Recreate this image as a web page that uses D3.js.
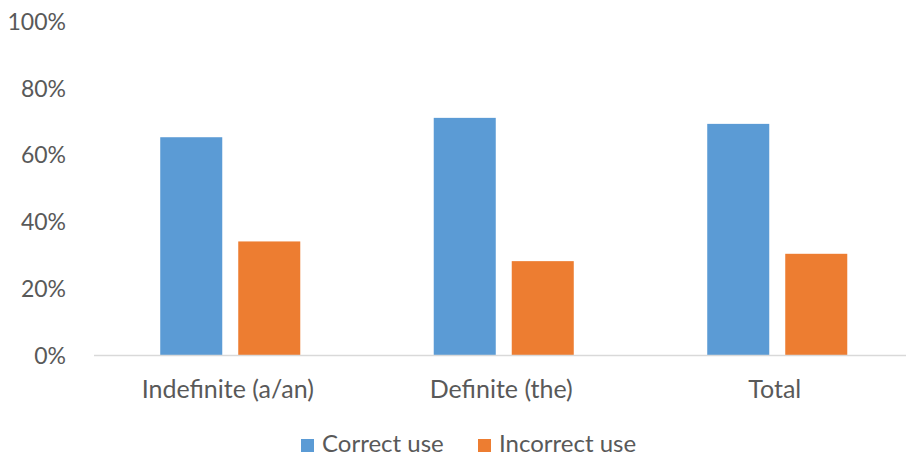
<!DOCTYPE html>
<html>
<head>
<meta charset="utf-8">
<script src="https://cdn.jsdelivr.net/npm/d3@7"></script>
<style>
  html, body { margin: 0; padding: 0; background: #fff; }
  svg { display: block; }
  text { font-family: Lato, "Open Sans", sans-serif; fill: #595959; }
</style>
</head>
<body>
<svg id="chart" width="906" height="458"></svg>
<script>
// Article usage: share of correct vs incorrect use
const categories = ["Indefinite (a/an)", "Definite (the)", "Total"];
const seriesNames = ["Correct use", "Incorrect use"];
const correctUse = [0.652, 0.710, 0.692];
const incorrectUse = [0.340, 0.281, 0.303];
const yTicks = [0, 0.2, 0.4, 0.6, 0.8, 1.0];
const colors = ["#5b9bd5", "#ed7d31"];

const svg = d3.select("#chart");
const plot = { left: 93.5, right: 914, top: 21, bottom: 355 };

const rows = categories.map((c, i) => ({ category: c, values: [correctUse[i], incorrectUse[i]] }));

const x0 = d3.scaleBand()
  .domain(categories)
  .range([plot.left, plot.right])
  .paddingInner(0.488)
  .paddingOuter(0.244);

const x1 = d3.scaleBand()
  .domain(seriesNames)
  .range([0, x0.bandwidth()])
  .paddingInner(0.205)
  .paddingOuter(0);

const y = d3.scaleLinear().domain([0, 1]).range([plot.bottom, plot.top]);

// Y axis labels (no line, no ticks)
const yAxis = d3.axisLeft(y)
  .tickValues(yTicks)
  .tickFormat(d3.format(".0%"))
  .tickSize(0)
  .tickPadding(0);
const gy = svg.append("g").attr("transform", "translate(66,0)").call(yAxis);
gy.select(".domain").remove();
gy.selectAll("text")
  .attr("font-size", 23)
  .attr("font-family", "Lato, sans-serif")
  .attr("fill", "#595959")
  .attr("dy", "0.36em");

// Bars
const groups = svg.append("g").selectAll("g")
  .data(rows)
  .join("g")
  .attr("transform", d => `translate(${x0(d.category)},0)`);

groups.selectAll("rect")
  .data(d => d.values.map((v, k) => ({ key: seriesNames[k], value: v, k })))
  .join("rect")
  .attr("x", d => x1(d.key))
  .attr("y", d => y(d.value))
  .attr("width", x1.bandwidth())
  .attr("height", d => y(0) - y(d.value))
  .attr("fill", d => colors[d.k]);

// X axis baseline and category labels
const xAxis = d3.axisBottom(x0).tickSize(0).tickPadding(0);
const gx = svg.append("g").attr("transform", `translate(0,${plot.bottom})`).call(xAxis);
gx.select(".domain")
  .attr("stroke", "#d9d9d9")
  .attr("stroke-width", 1.5);
gx.selectAll(".tick text")
  .attr("font-size", 25)
  .attr("font-family", "Lato, sans-serif")
  .attr("fill", "#595959")
  .attr("dy", 0)
  .attr("x", -2.5)
  .attr("y", 43);

// Legend
const legend = svg.append("g");
const legendItems = [
  { name: seriesNames[0], color: colors[0], x: 301 },
  { name: seriesNames[1], color: colors[1], x: 478 }
];
const li = legend.selectAll("g").data(legendItems).join("g")
  .attr("transform", d => `translate(${d.x},439)`);
li.append("rect").attr("width", 13).attr("height", 13).attr("fill", d => d.color);
li.append("text")
  .attr("x", 21)
  .attr("y", 13)
  .attr("font-size", 24)
  .text(d => d.name);
</script>
</body>
</html>
